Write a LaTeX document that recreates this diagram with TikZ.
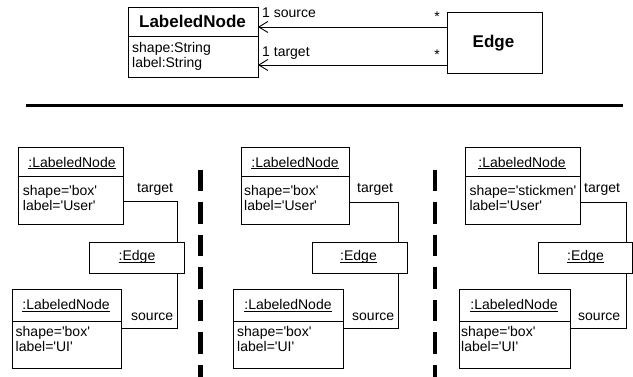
\documentclass[tikz,border=0pt]{standalone}
\usepackage{fontspec}
\setmainfont{Liberation Sans}
\usetikzlibrary{arrows.meta,calc}

% underline that sits just below the baseline and crosses descenders
\newcommand\umlul[1]{{\setbox0\hbox{#1}\rlap{\rule[-1.8pt]{\wd0}{0.7pt}}\box0}}
% straight single quote
\newcommand\sq{\textquotesingle}

\tikzset{
  umlbox/.style={draw, line width=0.9pt, inner sep=0pt, outer sep=0pt, anchor=north west},
  divider/.style={line width=0.9pt},
  txt/.style={inner sep=0pt, font=\fontsize{14}{14.5}\selectfont},
  attr/.style={txt, anchor=base west},
  ttl/.style={txt, anchor=base},
  bold/.style={inner sep=0pt, anchor=base, font=\fontsize{17}{20}\selectfont\bfseries},
  link/.style={line width=0.9pt},
  assoc/.style={line width=0.9pt, -{Straight Barb[length=9pt,width=11pt,line width=0.9pt]}},
  sep/.style={line width=3pt},
  vsep/.style={line width=4.5pt, dash pattern=on 21.5pt off 11pt}
}

\begin{document}
\begin{tikzpicture}[x=1pt,y=-1pt]
\useasboundingbox (0,0) rectangle (633,377);

% ---------- class diagram ----------
\node[umlbox, minimum width=130, minimum height=70] (cls) at (128,7) {};
\draw[divider] (cls.west |- 0,36) -- (cls.east |- 0,36);
\node[bold] (clsname) at (192.5,28) {LabeledNode};
\node[attr] (clsattr1) at (132,53) {shape:String};
\node[attr] (clsattr2) at (132,68) {label:String};

\node[umlbox, minimum width=95, minimum height=61] (edge) at (447,12) {};
\node[bold] (edgename) at (493.5,48) {Edge};

\draw[assoc] (edge.west |- 0,27) -- (cls.east |- 0,27);
\draw[assoc] (edge.west |- 0,65) -- (cls.east |- 0,65);
\node[txt, anchor=base west] (srcmult) at (262,18) {1 source};
\node[txt, anchor=base west] (tgtmult) at (262,57) {1 target};
\node[txt, anchor=base] (srcstar) at (437,22) {*};
\node[txt, anchor=base] (tgtstar) at (437,60) {*};

% ---------- separators ----------
\coordinate (hl) at (26,106);
\coordinate (hr) at (623,106);
\draw[sep] (hl) -- (hr);
\coordinate (d1t) at (200.5,170);
\coordinate (d1b) at (200.5,380);
\coordinate (d2t) at (435,170);
\coordinate (d2b) at (435,380);
\draw[vsep] (d1t) -- (d1b);
\draw[vsep] (d2t) -- (d2b);

% ---------- object diagram 1 ----------
\node[umlbox, minimum width=105, minimum height=77] (t1) at (18,147) {};
\draw[divider] (t1.west |- 0,176) -- (t1.east |- 0,176);
\node[ttl] (t1n) at (72,167.3) {\umlul{:LabeledNode}};
\node[attr] (t1a) at (22.7,195.7) {shape=\sq box\sq};
\node[attr] (t1b) at (22.7,210.2) {label=\sq User\sq};

\node[umlbox, minimum width=95, minimum height=31] (e1) at (89,242) {};
\node[ttl] (e1n) at (137,260.7) {\umlul{:Edge}};

\node[umlbox, minimum width=109, minimum height=79] (b1) at (12,289) {};
\draw[divider] (b1.west |- 0,321) -- (b1.east |- 0,321);
\node[ttl] (b1n) at (66,310) {\umlul{:LabeledNode}};
\node[attr] (b1a) at (15.5,336.7) {shape=\sq box\sq};
\node[attr] (b1b) at (15.5,351.2) {label=\sq UI\sq};

\draw[link] (t1.east |- 0,201) -| ([xshift=-7pt]e1.north east);
\draw[link] ([xshift=-7pt]e1.south east) |- (b1.east |- 0,328);
\node[txt, anchor=base west] (t1r) at (137,193) {target};
\node[txt, anchor=base west] (b1r) at (131,320) {source};

% ---------- object diagram 2 ----------
\node[umlbox, minimum width=108, minimum height=77] (t2) at (241,147) {};
\draw[divider] (t2.west |- 0,176) -- (t2.east |- 0,176);
\node[ttl] (t2n) at (295,167.3) {\umlul{:LabeledNode}};
\node[attr] (t2a) at (244,195.7) {shape=\sq box\sq};
\node[attr] (t2b) at (244,210.2) {label=\sq User\sq};

\node[umlbox, minimum width=95, minimum height=31] (e2) at (312,242) {};
\node[ttl] (e2n) at (358.5,260.7) {\umlul{:Edge}};

\node[umlbox, minimum width=110, minimum height=79] (b2) at (233,289) {};
\draw[divider] (b2.west |- 0,321) -- (b2.east |- 0,321);
\node[ttl] (b2n) at (288,310) {\umlul{:LabeledNode}};
\node[attr] (b2a) at (237,336.7) {shape=\sq box\sq};
\node[attr] (b2b) at (237,351.2) {label=\sq UI\sq};

\draw[link] (t2.east |- 0,202) -| ([xshift=-9pt]e2.north east);
\draw[link] ([xshift=-9pt]e2.south east) |- (b2.east |- 0,328);
\node[txt, anchor=base west] (t2r) at (357,193) {target};
\node[txt, anchor=base west] (b2r) at (352,320) {source};

% ---------- object diagram 3 ----------
\node[umlbox, minimum width=115, minimum height=77] (t3) at (465,147) {};
\draw[divider] (t3.west |- 0,176) -- (t3.east |- 0,176);
\node[ttl] (t3n) at (522,167.3) {\umlul{:LabeledNode}};
\node[attr] (t3a) at (469.3,195.7) {shape=\sq stickmen\sq};
\node[attr] (t3b) at (469.3,210.2) {label=\sq User\sq};

\node[umlbox, minimum width=94, minimum height=31] (e3) at (538,242) {};
\node[ttl] (e3n) at (585.5,260.7) {\umlul{:Edge}};

\node[umlbox, minimum width=111, minimum height=79] (b3) at (459,289) {};
\draw[divider] (b3.west |- 0,321) -- (b3.east |- 0,321);
\node[ttl] (b3n) at (514,310) {\umlul{:LabeledNode}};
\node[attr] (b3a) at (461,336.7) {shape=\sq box\sq};
\node[attr] (b3b) at (461,351.2) {label=\sq UI\sq};

\draw[link] (t3.east |- 0,202) -| ([xshift=-6pt]e3.north east);
\draw[link] ([xshift=-6pt]e3.south east) |- (b3.east |- 0,328);
\node[txt, anchor=base west] (t3r) at (584,193) {target};
\node[txt, anchor=base west] (b3r) at (578,320) {source};
\end{tikzpicture}
\end{document}
